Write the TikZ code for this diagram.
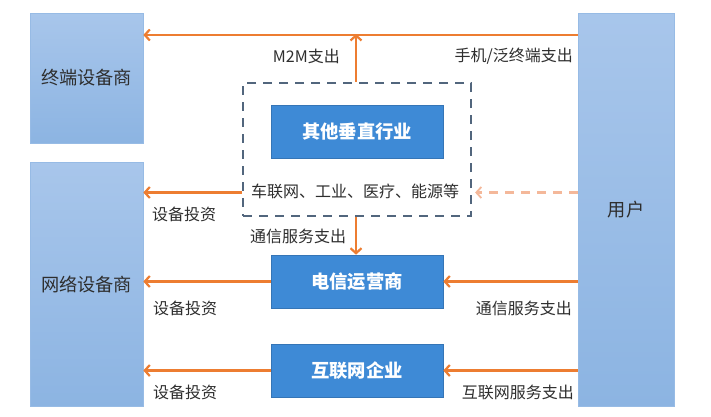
\documentclass[tikz,border=0pt]{standalone}
\usepackage{fontspec}
\setmainfont{Noto Sans CJK SC}
\usetikzlibrary{arrows.meta}
\definecolor{lbTop}{HTML}{A8C6EB}
\definecolor{lbBot}{HTML}{8CB4E2}
\definecolor{mblue}{HTML}{3E8AD6}
\definecolor{oline}{HTML}{ED7D31}
\definecolor{olight}{HTML}{F4B89A}
\definecolor{dgray}{HTML}{52667D}
\definecolor{txt}{HTML}{2E2E2E}
\tikzset{
  sidebox/.style={draw=lbBot!90!white, line width=0.6pt, top color=lbTop, bottom color=lbBot, inner sep=0pt, font=\fontsize{18.2}{21}\selectfont, text=txt},
  midbox/.style={fill=mblue, draw=mblue!85!black, line width=0.6pt, minimum width=172pt, minimum height=53pt, inner sep=0pt, text=white, font=\fontsize{18.3}{21}\selectfont\bfseries},
  flow/.style={draw=oline, line width=2.6pt, -{Straight Barb[length=5pt,width=11pt,line width=2.2pt]}},
  flowlight/.style={draw=olight, line width=2.2pt, dash pattern=on 9pt off 7pt, -{Straight Barb[length=5pt,width=11pt,line width=1.8pt]}},
  lbl/.style={font=\fontsize{16}{19}\selectfont, text=txt, inner sep=0pt}
}
\begin{document}
\begin{tikzpicture}[x=1pt,y=-1pt]
\useasboundingbox (0,0) rectangle (711,416);
\fill[white] (0,0) rectangle (711,416);
% side boxes
\node[sidebox, minimum width=113pt, minimum height=130pt] (term) at (86.5,78) {终端设备商};
\node[sidebox, minimum width=113pt, minimum height=244pt] (net) at (86.5,284) {网络设备商};
\node[sidebox, minimum width=96pt, minimum height=393pt] (user) at (626,209.5) {用户};
% dashed group
\node[draw=dgray, line width=2.2pt, dash pattern=on 9pt off 7pt, minimum width=228pt, minimum height=133pt, inner sep=0pt] (grp) at (357,149.5) {};
\node[midbox] (other) at (357,131.5) {其他垂直行业};
\node[lbl] (sectors) at (355,191) {车联网、工业、医疗、能源等};
\node[midbox] (tel) at (357,281.5) {电信运营商};
\node[midbox] (web) at (357,370.5) {互联网企业};
% helper coordinates
\coordinate (ytop) at (0,35);
\coordinate (ygrp) at (0,192.5);
\coordinate (upx) at (356,0);
% top flows
\draw[draw=oline, line width=2.6pt] (user.west |- ytop) -- (upx |- ytop);
\draw[flow] (upx |- ytop) -- (term.east |- ytop);
\draw[flow] (upx |- grp.north) -- ([yshift=1pt]upx |- ytop);
% group flows
\draw[flow] (grp.west |- ygrp) -- (net.east |- ygrp);
\draw[flowlight] (user.west |- ygrp) -- ([xshift=3pt]grp.east |- ygrp);
\draw[flow] (upx |- grp.south) -- (upx |- tel.north);
% telecom flows
\draw[flow] (user.west |- tel.east) -- (tel.east);
\draw[flow] (tel.west) -- (net.east |- tel.west);
% internet flows
\draw[flow] (user.west |- web.east) -- (web.east);
\draw[flow] (web.west) -- (net.east |- web.west);
% labels
\node[lbl, anchor=east] (lm2m) at (340,56) {M2M支出};
\node[lbl, anchor=east] (lphone) at (573,56) {手机/泛终端支出};
\node[lbl, anchor=west] (linv1) at (152,214) {设备投资};
\node[lbl, anchor=west] (lcom1) at (250,236) {通信服务支出};
\node[lbl, anchor=east] (lcom2) at (572,308) {通信服务支出};
\node[lbl, anchor=west] (linv2) at (153,308) {设备投资};
\node[lbl, anchor=east] (lweb) at (574,392) {互联网服务支出};
\node[lbl, anchor=west] (linv3) at (153,392) {设备投资};
\end{tikzpicture}
\end{document}
